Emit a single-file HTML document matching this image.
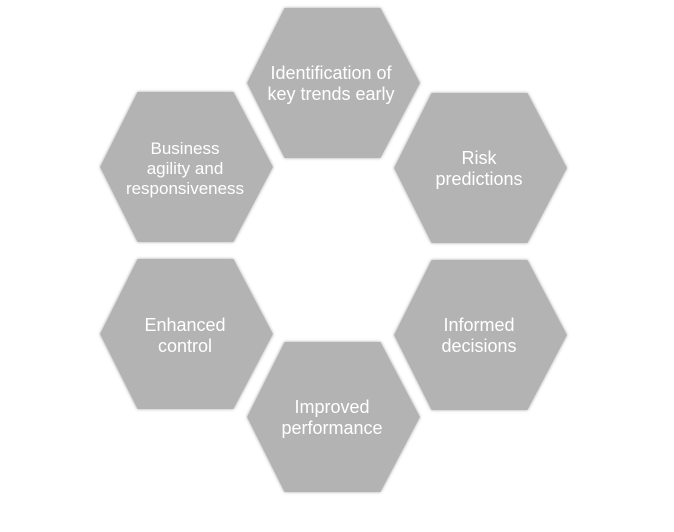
<!DOCTYPE html>
<html><head><meta charset="utf-8"><style>
html,body{margin:0;padding:0;background:#fff;width:674px;height:532px;overflow:hidden}
svg{display:block}
text{font-family:"Liberation Sans",sans-serif;fill:#fff;font-size:18px;text-anchor:middle}
</style></head><body>
<svg width="674" height="532" viewBox="0 0 674 532">
<defs>
<filter id="sh" x="-10%" y="-10%" width="120%" height="120%"><feGaussianBlur in="SourceAlpha" stdDeviation="1.5"/><feOffset dx="0" dy="0"/><feComponentTransfer><feFuncA type="linear" slope="0.35"/></feComponentTransfer><feMerge><feMergeNode/><feMergeNode in="SourceGraphic"/></feMerge></filter>
<polygon id="h" points="-49,-75 47,-75 86.5,0 47,75 -49,75 -86.5,0" fill="#b3b3b3"/>
</defs>
<g filter="url(#sh)">
<use href="#h" x="333.5" y="83"/>
<use href="#h" x="480.5" y="168"/>
<use href="#h" x="186.5" y="167"/>
<use href="#h" x="186.5" y="334"/>
<use href="#h" x="480.5" y="335"/>
<use href="#h" x="333.5" y="417"/>
</g>
<text x="331" y="79">Identification of</text>
<text x="331" y="100">key trends early</text>
<text x="479" y="164">Risk</text>
<text x="479" y="185">predictions</text>
<text x="185" y="154" style="font-size:17px">Business</text>
<text x="185" y="174" style="font-size:17px">agility and</text>
<text x="185" y="194" style="font-size:17px">responsiveness</text>
<text x="185" y="331">Enhanced</text>
<text x="185" y="352">control</text>
<text x="479" y="331">Informed</text>
<text x="479" y="352">decisions</text>
<text x="332" y="413">Improved</text>
<text x="332" y="434">performance</text>
</svg>
</body></html>
